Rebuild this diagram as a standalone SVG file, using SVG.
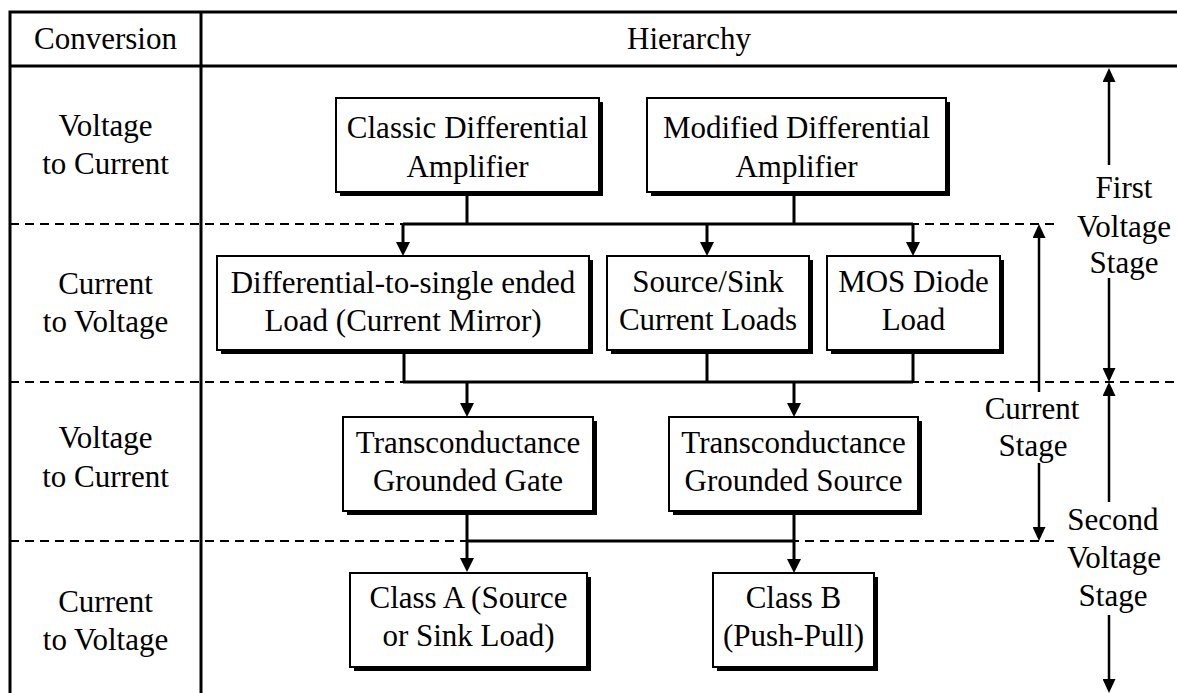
<svg xmlns="http://www.w3.org/2000/svg" width="1177" height="693" viewBox="0 0 1177 693">
<style>
text{font-size:31px;fill:#000;text-anchor:middle}
.grid{stroke:#000;stroke-width:3;fill:none}
.dash{stroke:#000;stroke-width:2;stroke-dasharray:9 6;fill:none}
.shadow{fill:#000}
.box{fill:#fff;stroke:#000;stroke-width:2}
.conn{stroke:#000;stroke-width:3;fill:none}
.dim{stroke:#000;stroke-width:2.5;fill:none}
</style>
<defs>
<marker id="ah" viewBox="0 0 14 14" refX="9" refY="7" markerWidth="14" markerHeight="14" markerUnits="userSpaceOnUse" orient="auto">
<path d="M0,0 L14,7 L0,14 z" fill="#000"/>
</marker>
<marker id="ah2" viewBox="0 0 14 13" refX="9" refY="6.5" markerWidth="14" markerHeight="13" markerUnits="userSpaceOnUse" orient="auto">
<path d="M0,0 L14,6.5 L0,13 z" fill="#000"/>
</marker>
</defs>
<rect width="1177" height="693" fill="#fff"/>
<g font-family="'Liberation Serif', 'Times New Roman', 'DejaVu Serif', serif">
<g id="table">
<path class="dash" d="M10,224 H1055 M10,382 H1177 M10,541 H1055"/>
<path class="grid" d="M8.5,12 H1177 M10,66 H1177 M10,12 V693 M201,12 V693"/>
<text x="105.5" y="49">Conversion</text>
<text x="689" y="49">Hierarchy</text>
<text x="105.5" y="136">Voltage</text>
<text x="105.5" y="174">to Current</text>
<text x="105.5" y="294">Current</text>
<text x="105.5" y="332">to Voltage</text>
<text x="105.5" y="448">Voltage</text>
<text x="105.5" y="487">to Current</text>
<text x="105.5" y="612">Current</text>
<text x="105.5" y="650">to Voltage</text>
</g>
<g id="connectors">
<path class="conn" d="M467,192 V224 M794,192 V224 M403,224 H913"/>
<path class="conn" marker-end="url(#ah)" d="M403,224 V251"/>
<path class="conn" marker-end="url(#ah)" d="M707,224 V251"/>
<path class="conn" marker-end="url(#ah)" d="M913,224 V251"/>
<path class="conn" d="M404,350 V382 M707,350 V382 M913,350 V382 M403,382 H913"/>
<path class="conn" marker-end="url(#ah)" d="M467,382 V412"/>
<path class="conn" marker-end="url(#ah)" d="M794,382 V412"/>
<path class="conn" d="M467,511 V541 M794,511 V541 M467,541 H794"/>
<path class="conn" marker-end="url(#ah)" d="M467,541 V567"/>
<path class="conn" marker-end="url(#ah)" d="M794,541 V568"/>
</g>
<g id="n-classic">
<rect class="shadow" x="340" y="102" width="263" height="94"/>
<rect class="box" x="336" y="98" width="263" height="94"/>
<text x="467.5" y="138">Classic Differential</text>
<text x="467.5" y="177">Amplifier</text>
</g>
<g id="n-modified">
<rect class="shadow" x="651" y="102" width="299" height="94"/>
<rect class="box" x="647" y="98" width="299" height="94"/>
<text x="796.5" y="138">Modified Differential</text>
<text x="796.5" y="177">Amplifier</text>
</g>
<g id="n-diffload">
<rect class="shadow" x="221" y="260" width="372" height="94"/>
<rect class="box" x="217" y="256" width="372" height="94"/>
<text x="403" y="293">Differential-to-single ended</text>
<text x="403" y="331">Load (Current Mirror)</text>
</g>
<g id="n-sourcesink">
<rect class="shadow" x="611" y="260" width="202" height="94"/>
<rect class="box" x="607" y="256" width="202" height="94"/>
<text x="708" y="292">Source/Sink</text>
<text x="708" y="330">Current Loads</text>
</g>
<g id="n-mosdiode">
<rect class="shadow" x="831" y="260" width="173" height="94"/>
<rect class="box" x="827" y="256" width="173" height="94"/>
<text x="913.5" y="292">MOS Diode</text>
<text x="913.5" y="330">Load</text>
</g>
<g id="n-tgg">
<rect class="shadow" x="347" y="421" width="250" height="94"/>
<rect class="box" x="343" y="417" width="250" height="94"/>
<text x="468" y="453">Transconductance</text>
<text x="468" y="491">Grounded Gate</text>
</g>
<g id="n-tgs">
<rect class="shadow" x="673" y="421" width="249" height="94"/>
<rect class="box" x="669" y="417" width="249" height="94"/>
<text x="793.5" y="453">Transconductance</text>
<text x="793.5" y="491">Grounded Source</text>
</g>
<g id="n-classa">
<rect class="shadow" x="354" y="577" width="237" height="94"/>
<rect class="box" x="350" y="573" width="237" height="94"/>
<text x="468.5" y="608">Class A (Source</text>
<text x="468.5" y="646">or Sink Load)</text>
</g>
<g id="n-classb">
<rect class="shadow" x="717" y="577" width="161" height="94"/>
<rect class="box" x="713" y="573" width="161" height="94"/>
<text x="793.5" y="608">Class B</text>
<text x="793.5" y="646">(Push-Pull)</text>
</g>
<g id="stage-labels">
<path class="dim" marker-end="url(#ah2)" d="M1109,165 V73"/>
<path class="dim" marker-end="url(#ah2)" d="M1109,278 V377"/>
<text x="1124" y="198">First</text>
<text x="1124" y="237">Voltage</text>
<text x="1124" y="273">Stage</text>
<path class="dim" marker-end="url(#ah2)" d="M1039,392 V229"/>
<path class="dim" marker-end="url(#ah2)" d="M1039,463 V536"/>
<text x="1032" y="419">Current</text>
<text x="1033" y="456">Stage</text>
<path class="dim" marker-end="url(#ah2)" d="M1109,502 V387"/>
<path class="dim" marker-end="url(#ah2)" d="M1109,615 V688"/>
<text x="1113" y="530">Second</text>
<text x="1114" y="568">Voltage</text>
<text x="1113" y="606">Stage</text>
</g>
</g>
</svg>
